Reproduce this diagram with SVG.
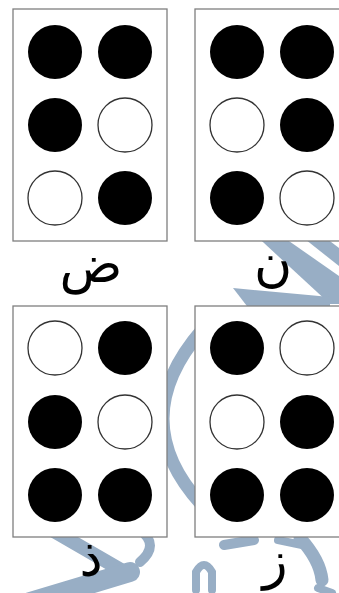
<svg xmlns="http://www.w3.org/2000/svg" width="339" height="593" viewBox="0 0 339 593">
<style>
.box{fill:#fff;stroke:#7f7f7f;stroke-width:1.3}
.on{fill:#000}
.off{fill:#fff;stroke:#333;stroke-width:1.3}
.lbl{font-family:"DejaVu Sans",sans-serif;font-size:52px;fill:#000;text-anchor:middle}
.wm{fill:none;stroke:#98aec5;stroke-linecap:round}
.wmf{fill:#98aec5}
</style>
<rect width="339" height="593" fill="#fff"/>
<g id="watermark">
<polygon class="wmf" points="252,232 276,232 339,276 339,304 330,304"/>
<polygon class="wmf" points="296,232 318,232 339,248 339,266"/>
<polygon class="wmf" points="233,288 330,297 330,310 250,310"/>
<path class="wm" d="M202 330 Q124 420 202 505" stroke-width="13"/>
<path class="wm" d="M52 530 L128 574" stroke-width="14"/>
<path class="wm" d="M30 602 L130 572" stroke-width="20"/>
<path class="wm" d="M140 530 Q160 545 140 562" stroke-width="10"/>
<path class="wm" d="M196 590 L196 572 Q204 558 212 572 L212 590" stroke-width="8"/>
<path class="wm" d="M224 545 L254 540" stroke-width="10"/>
<path class="wm" d="M278 540 L302 545" stroke-width="8"/>
<path class="wm" d="M300 538 Q320 560 322 580" stroke-width="13"/>
<path class="wm" d="M318 588 L332 593" stroke-width="8"/>
</g>
<g id="cell-dad">
<rect class="box" x="13" y="9" width="154" height="232"/>
<circle class="on" cx="55" cy="52" r="27"/>
<circle class="on" cx="125" cy="52" r="27"/>
<circle class="on" cx="55" cy="125" r="27"/>
<circle class="off" cx="125" cy="125" r="27"/>
<circle class="off" cx="55" cy="198" r="27"/>
<circle class="on" cx="125" cy="198" r="27"/>
<text class="lbl" x="91" y="282">ض</text>
</g>
<g id="cell-nun">
<rect class="box" x="195" y="9" width="150" height="232"/>
<circle class="on" cx="237" cy="52" r="27"/>
<circle class="on" cx="307" cy="52" r="27"/>
<circle class="off" cx="237" cy="125" r="27"/>
<circle class="on" cx="307" cy="125" r="27"/>
<circle class="on" cx="237" cy="198" r="27"/>
<circle class="off" cx="307" cy="198" r="27"/>
<text class="lbl" x="273" y="281">ن</text>
</g>
<g id="cell-dhal">
<rect class="box" x="13" y="306" width="154" height="231"/>
<circle class="off" cx="55" cy="348" r="27"/>
<circle class="on" cx="125" cy="348" r="27"/>
<circle class="on" cx="55" cy="422" r="27"/>
<circle class="off" cx="125" cy="422" r="27"/>
<circle class="on" cx="55" cy="495" r="27"/>
<circle class="on" cx="125" cy="495" r="27"/>
<text class="lbl" x="91" y="576">ذ</text>
</g>
<g id="cell-zay">
<rect class="box" x="195" y="306" width="150" height="231"/>
<circle class="on" cx="237" cy="348" r="27"/>
<circle class="off" cx="307" cy="348" r="27"/>
<circle class="off" cx="237" cy="422" r="27"/>
<circle class="on" cx="307" cy="422" r="27"/>
<circle class="on" cx="237" cy="495" r="27"/>
<circle class="on" cx="307" cy="495" r="27"/>
<text class="lbl" x="275" y="578">ز</text>
</g>
</svg>
